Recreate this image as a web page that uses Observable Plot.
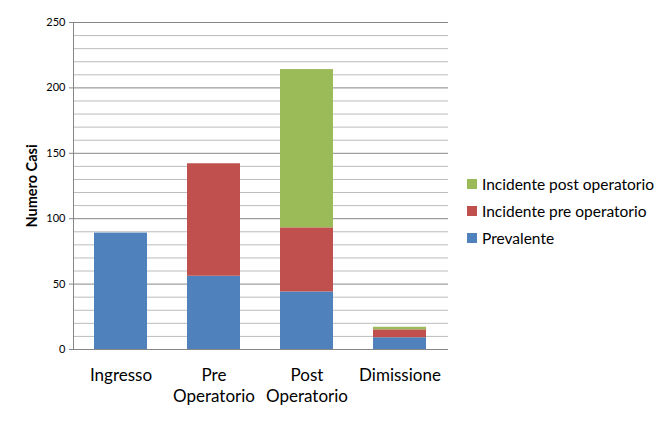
<!DOCTYPE html>
<html>
<head>
<meta charset="utf-8">
<script src="https://cdn.jsdelivr.net/npm/d3@7"></script>
<script src="https://cdn.jsdelivr.net/npm/@observablehq/plot@0.6"></script>
<style>
  body { margin: 0; background: #fff; }
  #wrap { position: relative; width: 664px; height: 438px; font-family: Lato, "Open Sans", sans-serif; }
  #legend { position: absolute; left: 467px; top: 170px; font-size: 15.5px; color: #000; }
  .row { display: flex; align-items: center; height: 27px; }
  .sw { width: 10px; height: 10px; margin-right: 5px; }
</style>
</head>
<body>
<div id="wrap"><div id="chart"></div><div id="legend"></div></div>
<script>
const categories = ["Ingresso", "Pre\nOperatorio", "Post\nOperatorio", "Dimissione"];
const series = ["Prevalente", "Incidente pre operatorio", "Incidente post operatorio"];
const prevalente = [89, 56, 44, 9];
const incidentePre = [0, 86, 49, 6];
const incidentePost = [0, 0, 121, 2];
const colors = ["#4F81BD", "#C0504D", "#9BBB59"];
const yTicks = [0, 50, 100, 150, 200, 250];

const values = [prevalente, incidentePre, incidentePost];
const data = [];
series.forEach((s, i) => categories.forEach((c, j) => data.push({cat: c, series: s, value: values[i][j]})));
const gridVals = d3.range(0, 251, 10);

const chart = Plot.plot({
  width: 664,
  height: 438,
  marginLeft: 73,
  marginRight: 216,
  marginTop: 22,
  marginBottom: 89,
  style: {fontFamily: "Lato, 'Open Sans', sans-serif", color: "#000", background: "#fff"},
  x: {domain: categories, paddingInner: 0.43, paddingOuter: 0.215},
  y: {domain: [0, 250]},
  color: {domain: series, range: colors},
  marks: [
    Plot.ruleY(gridVals.filter(v => v % 50 !== 0), {stroke: "#bcbcbc", strokeWidth: 1}),
    Plot.ruleY(gridVals.filter(v => v % 50 === 0 && v > 0), {stroke: "#868686", strokeWidth: 1}),
    Plot.barY(data, {x: "cat", y: "value", fill: "series", order: series}),
    Plot.ruleY([0], {stroke: "#868686"}),
    Plot.frame({anchor: "left", stroke: "#868686"}),
    Plot.axisY({ticks: yTicks, tickSize: 4, tickPadding: 4, fontSize: 11, label: null, stroke: "#868686"}),
    Plot.axisX({tickSize: 0, tickPadding: 16, fontSize: 17, lineHeight: 1.25, label: null}),
    Plot.text(["Numero Casi"], {frameAnchor: "left", textAnchor: "middle", dx: -41, rotate: -90, fontWeight: "bold", fontSize: 14.5})
  ]
});
document.getElementById("chart").appendChild(chart);

const legend = document.getElementById("legend");
[2, 1, 0].forEach(i => {
  const row = document.createElement("div");
  row.className = "row";
  row.innerHTML = `<div class="sw" style="background:${colors[i]}"></div><span>${series[i]}</span>`;
  legend.appendChild(row);
});
</script>
</body>
</html>
